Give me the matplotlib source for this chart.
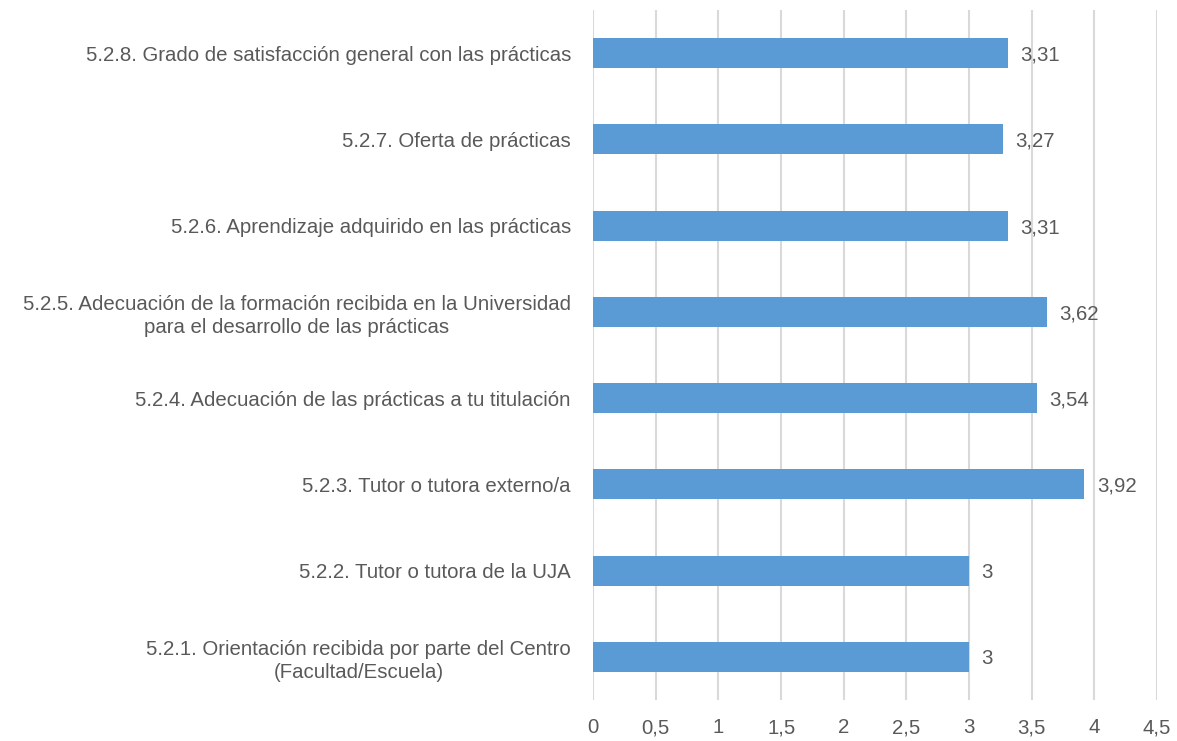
import numpy as np
import matplotlib.pyplot as plt

categorias = [
    "5.2.1. Orientación recibida por parte del Centro\n(Facultad/Escuela)",
    "5.2.2. Tutor o tutora de la UJA",
    "5.2.3. Tutor o tutora externo/a",
    "5.2.4. Adecuación de las prácticas a tu titulación",
    "5.2.5. Adecuación de la formación recibida en la Universidad\npara el desarrollo de las prácticas",
    "5.2.6. Aprendizaje adquirido en las prácticas",
    "5.2.7. Oferta de prácticas",
    "5.2.8. Grado de satisfacción general con las prácticas",
]
valores = [3, 3, 3.92, 3.54, 3.62, 3.31, 3.27, 3.31]
ticks_x = [0, 0.5, 1, 1.5, 2, 2.5, 3, 3.5, 4, 4.5]

plt.rcParams['font.family'] = ['Liberation Sans', 'DejaVu Sans']
gris = "#595959"


def coma(v):
    return ("%g" % v).replace(".", ",")


def main():
    fig = plt.figure(figsize=(11.77, 7.41), dpi=100)
    ax = fig.add_axes([0.504, 0.0553, 0.479, 0.9312])

    y = np.arange(len(categorias))
    ax.barh(y, valores, height=0.35, color="#5B9BD5", zorder=3)

    for yi, v in zip(y, valores):
        ax.text(v + 0.1, yi, coma(v), va="center_baseline", ha="left",
                fontsize=14.7, color=gris)

    ax.set_xlim(0, 4.5)
    ax.set_ylim(-0.5, len(categorias) - 0.5)
    ax.set_xticks(ticks_x)
    ax.set_xticklabels([])
    # etiquetas del eje x a mano, alineadas por la linea base
    for t in ticks_x:
        ax.text(t, -0.048, coma(t), transform=ax.get_xaxis_transform(),
                ha="center", va="baseline", fontsize=14.7, color=gris)
    ax.set_yticks(y)
    ax.set_yticklabels(categorias, multialignment="center", linespacing=1.3)

    ax.grid(axis="x", color="#D9D9D9", linewidth=1.5, zorder=0)
    for s in ax.spines.values():
        s.set_visible(False)
    ax.tick_params(axis="both", length=0, labelsize=14.7, labelcolor=gris)
    ax.tick_params(axis="y", pad=16)

    fig.savefig("out.png", dpi=100)


if __name__ == '__main__':
    main()
